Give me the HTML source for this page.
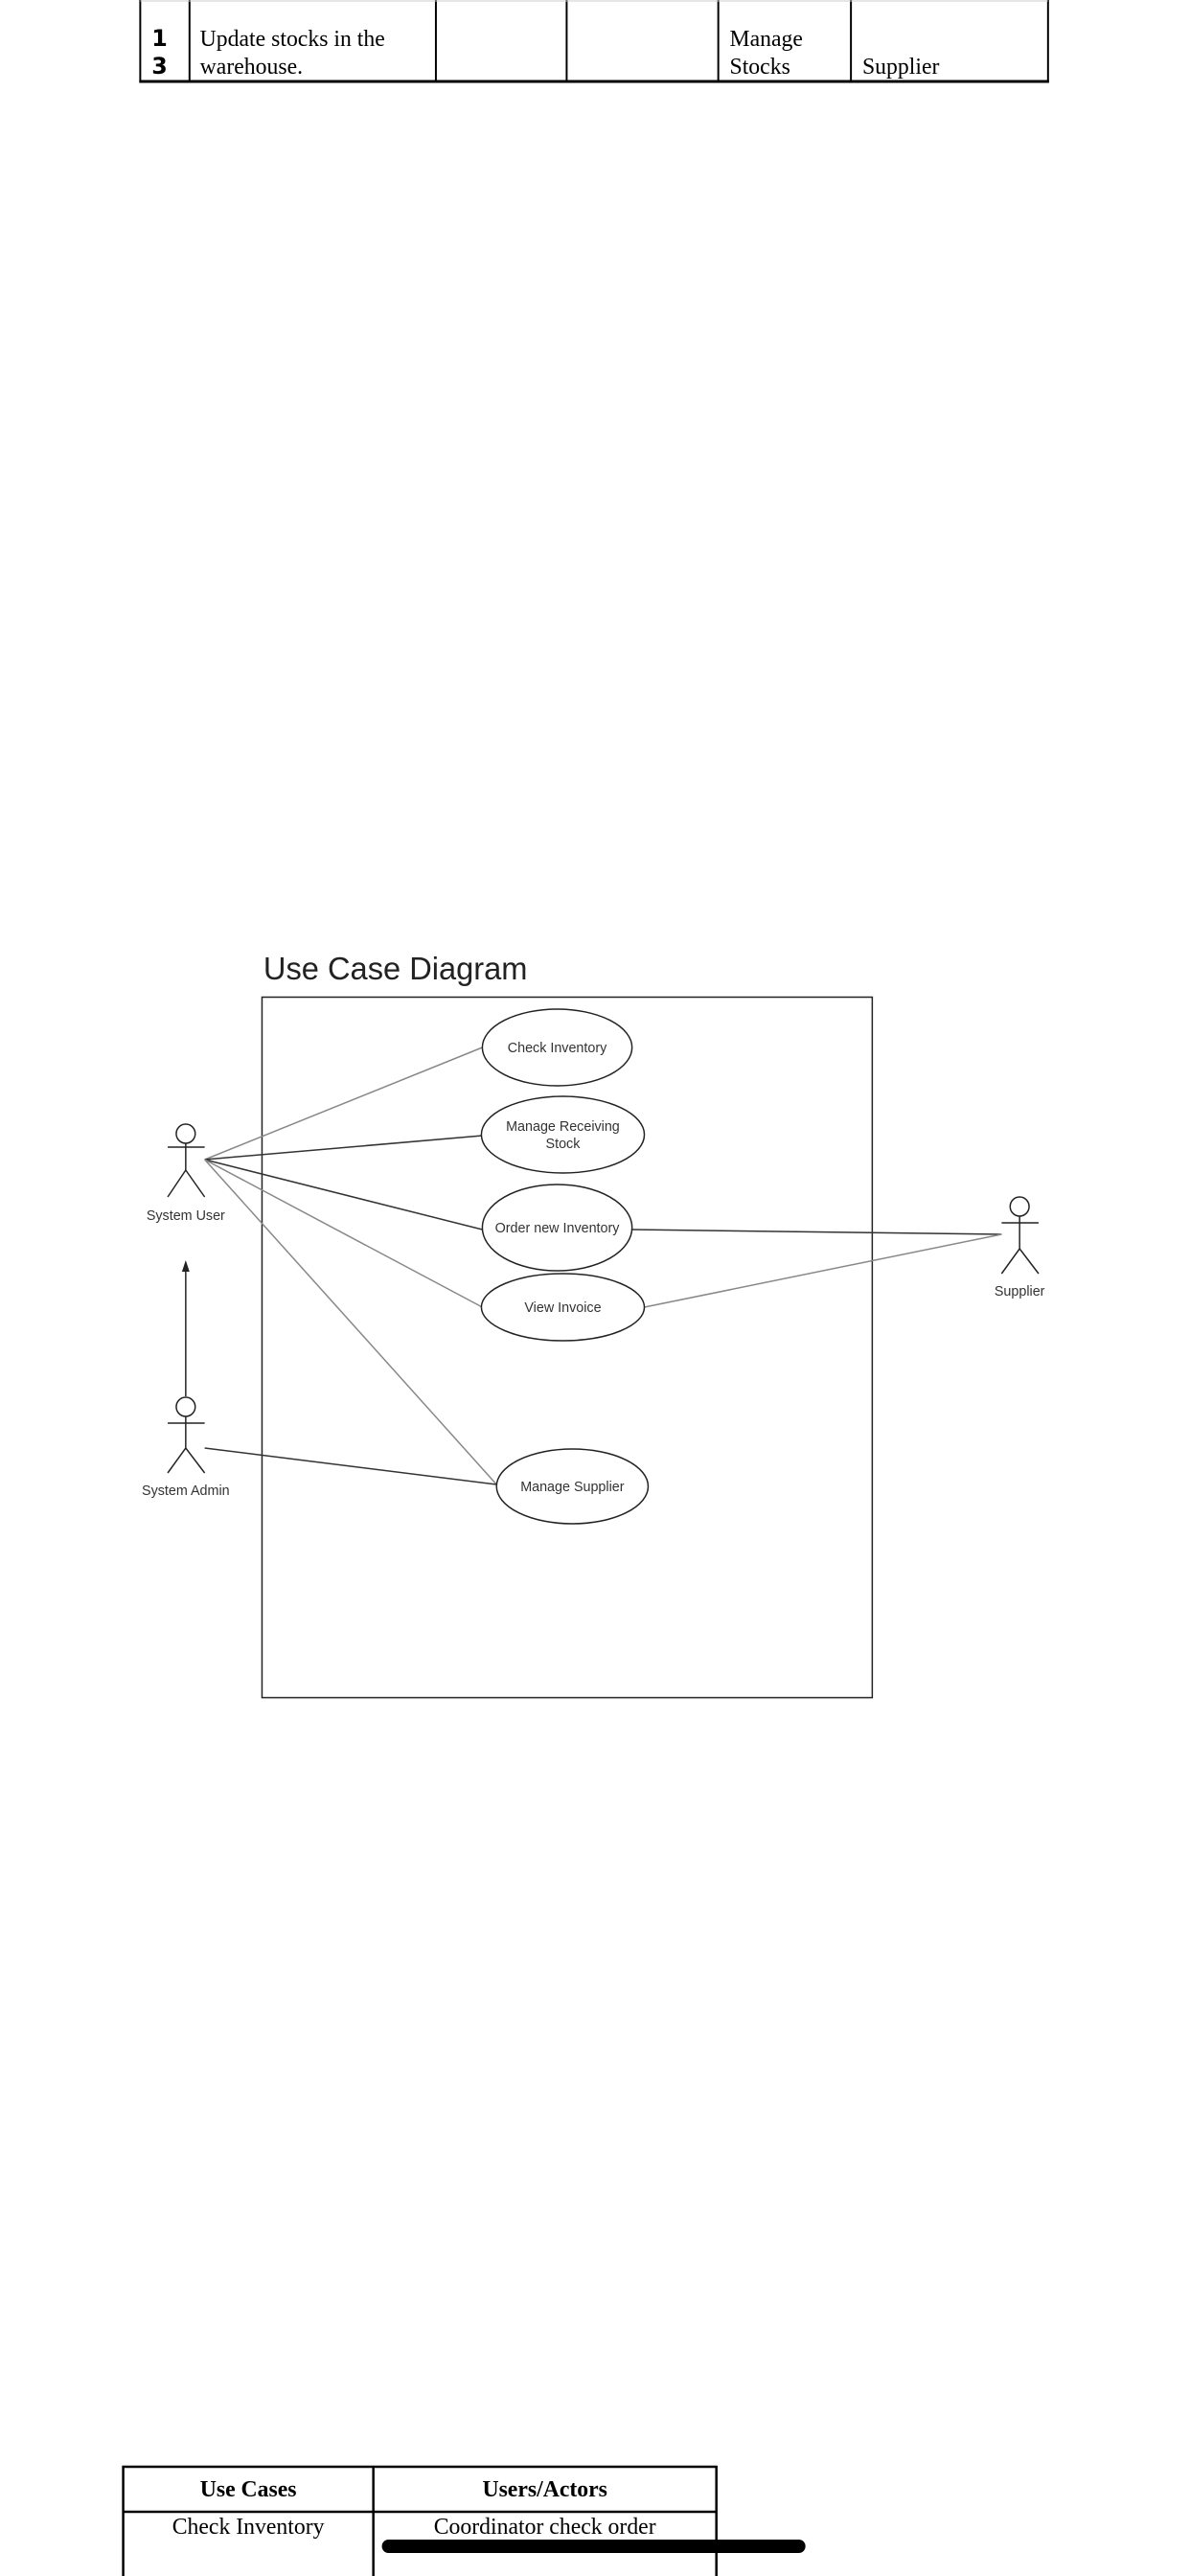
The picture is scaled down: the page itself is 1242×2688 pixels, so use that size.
<!DOCTYPE html>
<html><head><meta charset="utf-8"><style>
html,body{margin:0;padding:0;background:#fff;}
body{width:1242px;height:2688px;position:relative;overflow:hidden;font-family:"Liberation Serif",serif;}
.a{position:absolute;}
</style></head><body>
<svg class="a" style="left:0;top:0" width="1242" height="2688" xmlns="http://www.w3.org/2000/svg">
<g transform="scale(0.989,1)">
<!-- top table -->
<g stroke="#000" stroke-width="2" fill="none">
<line x1="148" y1="0" x2="148" y2="86"/>
<line x1="200" y1="0" x2="200" y2="86"/>
<line x1="460" y1="0" x2="460" y2="86"/>
<line x1="598" y1="0" x2="598" y2="86"/>
<line x1="758" y1="0" x2="758" y2="86"/>
<line x1="898" y1="0" x2="898" y2="86"/>
<line x1="1106" y1="0" x2="1106" y2="86"/>
<line x1="147" y1="85" x2="1107" y2="85" stroke-width="3"/>
<line x1="148" y1="1" x2="1106" y2="1" stroke="#ccc" stroke-width="1"/>
</g>
<g font-family="Liberation Serif, serif" font-size="24" fill="#000">
<text x="211" y="48">Update stocks in the</text>
<text x="211" y="77">warehouse.</text>
<text x="770" y="48">Manage</text>
<text x="770" y="77">Stocks</text>
<text x="910" y="77">Supplier</text>
</g>
<g font-family="DejaVu Sans, sans-serif" font-weight="bold" font-size="24" fill="#000">
<text x="160" y="48">1</text>
<text x="160" y="77">3</text>
</g>

<!-- diagram -->
<text x="278" y="1022" font-family="Liberation Sans, sans-serif" font-size="33" fill="#222">Use Case Diagram</text>
<rect x="276.5" y="1040.5" width="644" height="731" fill="none" stroke="#222" stroke-width="1.5"/>

<g stroke-width="1.5">
<line x1="216" y1="1210" x2="509" y2="1093" stroke="#888"/>
<line x1="216" y1="1210" x2="509" y2="1185" stroke="#333"/>
<line x1="216" y1="1210" x2="509" y2="1283" stroke="#333"/>
<line x1="216" y1="1210" x2="509" y2="1364" stroke="#888"/>
<line x1="216" y1="1210" x2="524" y2="1549" stroke="#888"/>
<line x1="216" y1="1511" x2="524" y2="1549" stroke="#333"/>
<line x1="1057" y1="1288" x2="667" y2="1283" stroke="#333"/>
<line x1="1057" y1="1288" x2="680" y2="1364" stroke="#888"/>
<line x1="196" y1="1457" x2="196" y2="1325" stroke="#222"/>
</g>
<polygon points="196,1315 192,1327 200,1327" fill="#222"/>

<g fill="#fff" stroke="#222" stroke-width="1.5">
<ellipse cx="588" cy="1093" rx="79" ry="40"/>
<ellipse cx="594" cy="1184" rx="86" ry="40"/>
<ellipse cx="594" cy="1364" rx="86" ry="35"/>
<ellipse cx="588" cy="1281" rx="79" ry="45"/>
<ellipse cx="604" cy="1551" rx="80" ry="39"/>
</g>
<g font-family="Liberation Sans, sans-serif" font-size="14.5" fill="#333" text-anchor="middle">
<text x="588" y="1098">Check Inventory</text>
<text x="594" y="1180">Manage Receiving</text>
<text x="594" y="1198">Stock</text>
<text x="588" y="1286">Order new Inventory</text>
<text x="594" y="1369">View Invoice</text>
<text x="604" y="1556">Manage Supplier</text>
<text x="196" y="1273">System User</text>
<text x="196" y="1560">System Admin</text>
<text x="1076" y="1352">Supplier</text>
</g>
<g fill="none" stroke="#222" stroke-width="1.5">
<circle cx="196" cy="1183" r="10"/>
<line x1="177" y1="1197" x2="216" y2="1197"/>
<line x1="196" y1="1193" x2="196" y2="1221"/>
<polyline points="177,1249 196,1221 216,1249"/>
<circle cx="196" cy="1468" r="10"/>
<line x1="177" y1="1485" x2="216" y2="1485"/>
<line x1="196" y1="1478" x2="196" y2="1511"/>
<polyline points="177,1537 196,1511 216,1537"/>
<circle cx="1076" cy="1259" r="10"/>
<line x1="1057" y1="1276" x2="1096" y2="1276"/>
<line x1="1076" y1="1269" x2="1076" y2="1303"/>
<polyline points="1057,1329 1076,1303 1096,1329"/>
</g>

<!-- bottom table -->
<g stroke="#000" stroke-width="2.5" fill="none">
<line x1="129" y1="2574" x2="757" y2="2574"/>
<line x1="129" y1="2621" x2="757" y2="2621"/>
<line x1="130" y1="2573" x2="130" y2="2700"/>
<line x1="394" y1="2573" x2="394" y2="2700"/>
<line x1="756" y1="2573" x2="756" y2="2700"/>
</g>
<g font-family="Liberation Serif, serif" font-size="24" fill="#000" text-anchor="middle">
<text x="262" y="2605" font-weight="bold">Use Cases</text>
<text x="575" y="2605" font-weight="bold">Users/Actors</text>
<text x="262" y="2644">Check Inventory</text>
<text x="575" y="2644">Coordinator check order</text>
</g>
<rect x="403" y="2650" width="447" height="14" rx="7" fill="#000"/>
</g>
</svg>
</body></html>
